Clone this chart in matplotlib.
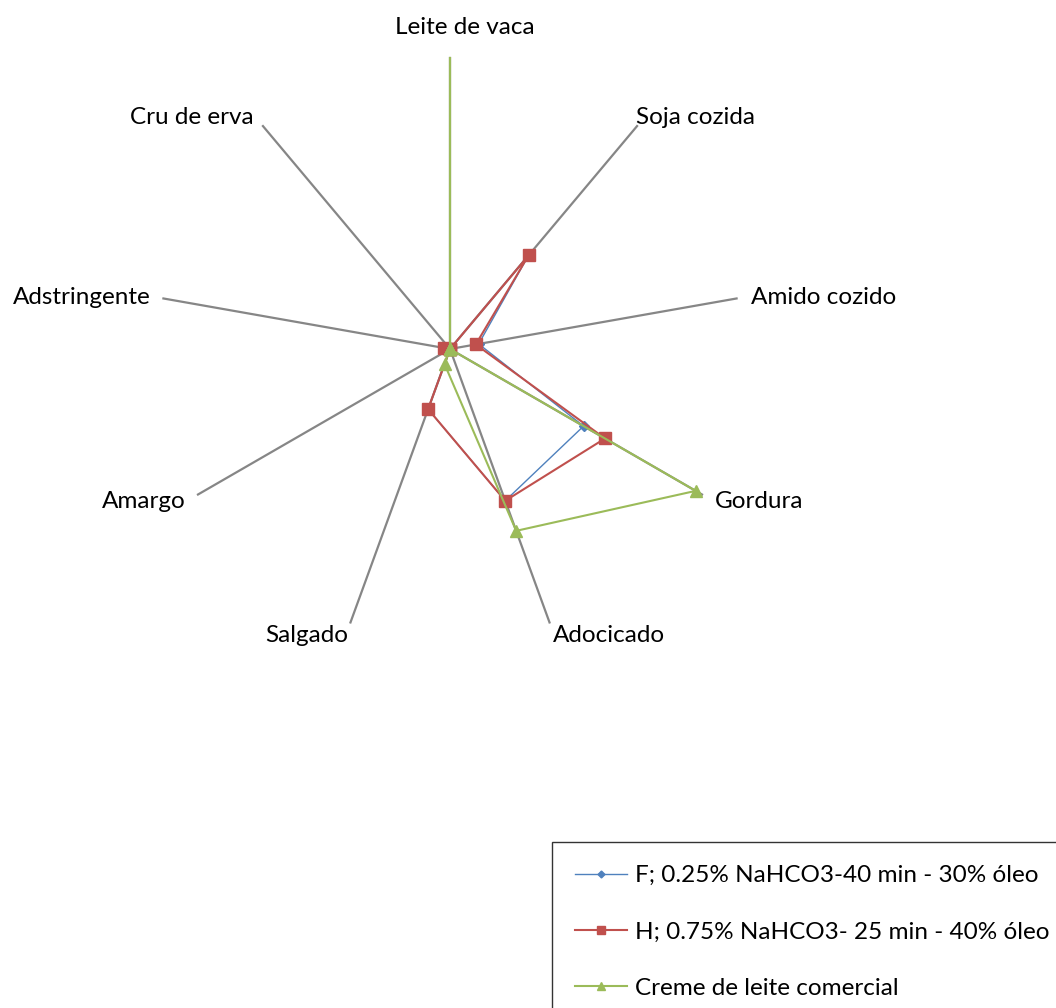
import numpy as np
import matplotlib.pyplot as plt

plt.rcParams['font.family'] = ['Lato', 'DejaVu Sans']

# sensory attributes, clockwise from the top
attributes = ['Leite de vaca', 'Soja cozida', 'Amido cozido', 'Gordura', 'Adocicado',
              'Salgado', 'Amargo', 'Adstringente', 'Cru de erva']

series_names = ['F; 0.25% NaHCO3-40 min - 30% óleo',
                'H; 0.75% NaHCO3- 25 min - 40% óleo',
                'Creme de leite comercial']
f_values = [0, 4.2, 1.0, 5.3, 5.55, 2.2, 0, 0.2, 0]
h_values = [0, 4.2, 0.9, 6.15, 5.55, 2.2, 0, 0.2, 0]
c_values = [10, 0, 0, 9.75, 6.65, 0.55, 0, 0, 0]

r_max = 10

fig = plt.figure(figsize=(10.56, 10.08), dpi=100)
W, H = 1056, 1008
cx, cy, rad = 450, 349, 291
ax = fig.add_axes([(cx - rad) / W, 1 - (cy + rad) / H, 2 * rad / W, 2 * rad / H],
                  projection='polar')
ax.set_theta_zero_location('N')
ax.set_theta_direction(-1)
ax.set_ylim(0, r_max)
ax.axis('off')

n = len(attributes)
theta = 2 * np.pi * np.arange(n) / n

# spokes
for t in theta:
    ax.plot([t, t], [0, r_max], color='#868686', lw=1.6, zorder=1, clip_on=False)

tc = np.append(theta, theta[0])
styles = [
    (f_values, '#4F81BD', 'D', 5, 1.0),
    (h_values, '#C0504D', 's', 8, 1.5),
    (c_values, '#9BBB59', '^', 8, 1.5),
]
for (vals, col, mk, ms, lw), name in zip(styles, series_names):
    v = np.append(vals, vals[0])
    # no marker for points sitting on the outer edge
    keep = [i for i in range(n) if vals[i] < r_max]
    ax.plot(tc, v, color=col, lw=lw, marker=mk, ms=ms, markevery=keep,
            label=name, zorder=3, clip_on=False)

# category labels
label_pos = {
    'Leite de vaca': (465, 28, 'center'),
    'Soja cozida': (636, 117, 'left'),
    'Amido cozido': (751, 297, 'left'),
    'Gordura': (715, 501, 'left'),
    'Adocicado': (553, 636, 'left'),
    'Salgado': (348, 636, 'right'),
    'Amargo': (186, 501, 'right'),
    'Adstringente': (151, 297, 'right'),
    'Cru de erva': (254, 117, 'right'),
}
for name in attributes:
    x, y, ha = label_pos[name]
    fig.text(x / W, 1 - y / H, name, ha=ha, va='center', fontsize=17.5)

leg = ax.legend(loc='upper left', bbox_to_anchor=(552 / W, 1 - 842 / H),
                bbox_transform=fig.transFigure, fontsize=17.5, frameon=True,
                fancybox=False, edgecolor='black', handlelength=2.15,
                handletextpad=0.3, labelspacing=1.45, borderpad=0.95,
                borderaxespad=0, markerscale=0.7)
leg.get_frame().set_linewidth(1.0)

fig.savefig('out.png', dpi=100)
